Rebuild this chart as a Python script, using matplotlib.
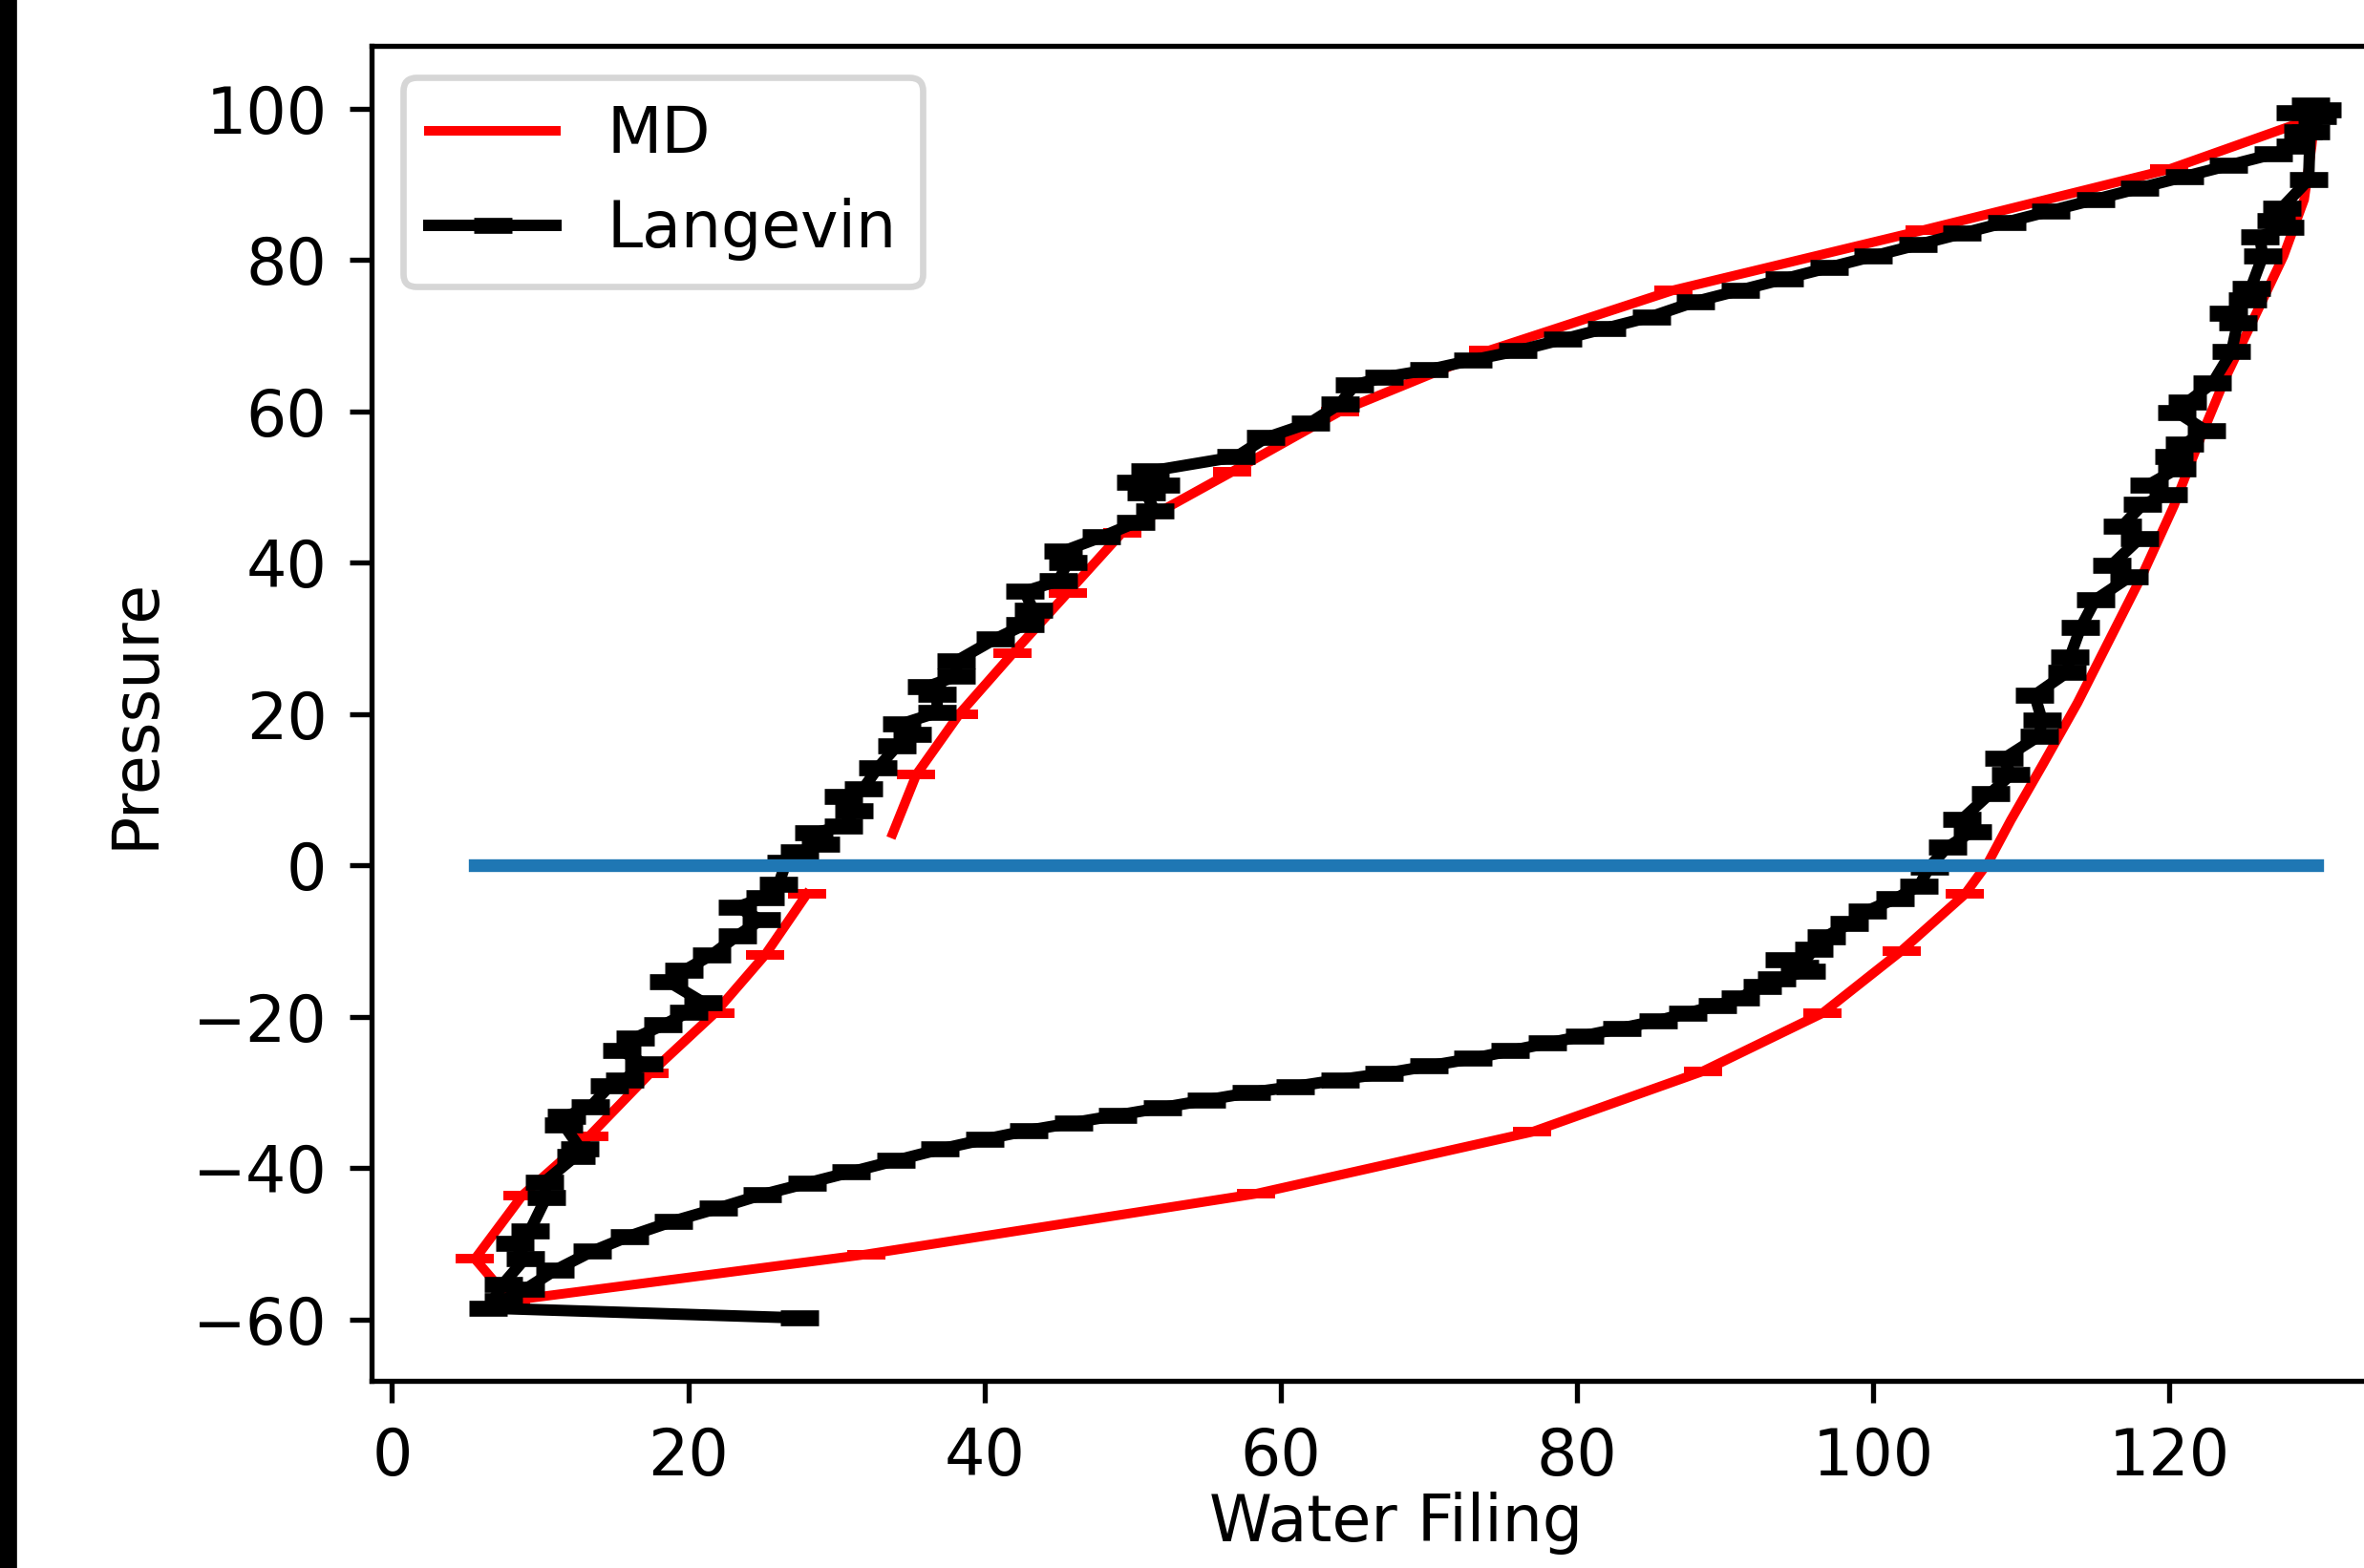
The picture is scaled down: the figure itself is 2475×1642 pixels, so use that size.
import matplotlib
matplotlib.use("Agg")
import matplotlib.pyplot as plt
from matplotlib.patches import Rectangle

# MD run (red): upper branch, right branch, lower branch, left branch
md_x = [33.8, 35.4, 38.3, 41.9, 45.6, 49.3, 56.7, 64.0, 74.0, 86.5, 103.5, 120.0, 129.8,
        129.6, 129.1, 127.7, 126.0, 123.8, 122.0, 120.3, 118.2, 116.0, 113.8, 111.5, 109.3, 107.8,
        106.2, 101.9, 96.6, 88.5, 77.0, 58.3, 32.0, 8.0,
        5.6, 8.8, 13.3, 17.4, 21.8, 25.2, 28.0]
md_p = [4.2, 12.0, 20.0, 28.0, 36.0, 44.0, 52.0, 60.0, 68.0, 76.0, 84.0, 92.0, 98.8,
        95.0, 88.0, 80.5, 73.5, 64.5, 56.0, 47.5, 38.5, 30.0, 21.5, 13.5, 6.0, 0.5,
        -3.8, -11.3, -19.5, -27.2, -35.2, -43.4, -51.4, -57.5,
        -52.0, -43.6, -35.8, -27.5, -19.5, -11.8, -3.8]
md_marked = list(range(1, 13)) + list(range(26, 41))

# Langevin run (black)
lang_x = [27.5, 6.5, 7.5, 9.0, 8.3, 9.3, 10.4, 10.3, 12.4, 12.7, 11.6, 11.8, 13.4, 14.7, 15.7,
          17.0, 15.5, 16.4, 18.3, 20.0, 21.0, 18.7, 19.7, 21.6, 23.3, 24.9, 23.3, 25.2, 26.1,
          26.6, 27.5, 28.9, 28.5, 30.5, 31.2, 30.5, 31.8, 32.8, 34.1, 35.1, 34.4, 36.8, 36.8,
          36.1, 38.1, 38.1, 40.7, 42.7, 43.3, 42.7, 45.0, 45.6, 45.3, 47.9, 50.2, 51.5, 50.9,
          51.9, 50.2, 51.2, 57.0, 59.0, 62.0, 64.0, 65.0, 67.0, 70.0, 73.0, 76.0, 79.0, 82.0,
          85.0, 88.0, 91.0, 94.0, 97.0, 100.0, 103.0, 106.0, 109.0, 112.0, 115.0, 118.0, 121.0,
          124.0, 127.0, 128.5, 129.0, 130.0, 129.5, 128.5, 130.3, 129.5,
          129.4, 127.6, 127.2, 127.8, 126.1, 126.3, 125.5, 125.3, 124.0, 124.6, 124.2, 122.9,
          121.2, 120.5, 122.5, 121.0, 120.3, 120.5, 118.6, 119.9, 118.2, 116.8, 118.0, 116.1,
          117.3, 115.0, 114.0, 113.3, 113.1, 110.9, 111.4, 111.2, 108.8, 109.3, 107.9, 106.0,
          106.7, 105.0, 103.8, 103.1, 101.5, 99.6, 98.4, 96.8, 96.0, 95.0, 94.0, 95.5, 93.5,
          92.5, 91.0, 89.5, 87.5, 85.5, 83.0, 80.5, 78.0, 75.5, 73.0, 70.0, 67.0, 64.0, 61.0,
          58.0, 55.0, 52.0, 49.0, 46.0, 43.0, 40.0, 37.0, 34.0, 31.0, 28.0, 25.0, 22.0, 19.0,
          16.0, 13.5, 11.0, 9.0, 7.5]
lang_p = [-59.8, -58.5, -55.3, -51.9, -50.0, -48.3, -43.9, -41.8, -38.4, -37.4, -34.3, -33.1,
          -31.9, -29.1, -28.3, -26.2, -24.5, -22.8, -21.1, -19.4, -18.1, -15.4, -13.9, -11.8,
          -9.3, -7.2, -5.5, -4.2, -2.5, 0.4, 1.8, 2.8, 4.3, 5.2, 7.2, 9.1, 10.1, 12.9, 15.8,
          17.3, 18.7, 20.2, 22.6, 23.6, 25.0, 27.0, 29.9, 31.8, 33.7, 36.2, 37.6, 40.0, 41.5,
          43.4, 45.3, 46.8, 49.2, 50.2, 50.6, 52.1, 54.0, 56.5, 58.5, 61.0, 63.5, 64.5, 65.5,
          66.8, 68.0, 69.5, 71.0, 72.5, 74.5, 76.0, 77.5, 79.0, 80.5, 82.0, 83.5, 85.0, 86.5,
          88.0, 89.5, 91.0, 92.5, 94.0, 95.0, 97.0, 99.0, 100.5, 99.5, 99.8, 97.0,
          90.6, 86.9, 85.2, 84.3, 83.1, 80.5, 76.3, 74.7, 73.0, 71.7, 67.9, 63.7, 61.2, 59.9,
          57.4, 55.7, 54.0, 52.4, 50.3, 49.0, 47.7, 44.8, 43.2, 39.7, 38.1, 35.1, 31.4, 27.6,
          25.5, 22.5, 19.2, 17.1, 14.1, 12.0, 9.5, 6.1, 4.5, 2.4, -0.2, -2.7, -4.4, -6.0, -7.7,
          -9.4, -11.1, -13.5, -12.5, -14.0, -15.0, -16.0, -17.5, -18.5, -19.5, -20.5, -21.5,
          -22.5, -23.5, -24.5, -25.5, -26.5, -27.5, -28.3, -29.2, -30.0, -31.0, -32.0, -33.0,
          -34.0, -35.0, -36.2, -37.5, -39.0, -40.5, -42.0, -43.5, -45.3, -47.0, -49.0, -51.0,
          -53.5, -56.0, -57.5]

zero_x = [5.6, 130.0]
zero_p = [0, 0]

fig = plt.figure(figsize=(2475 / 480, 1642 / 480), dpi=480)
ax = fig.add_axes([0.1572, 0.1194, 0.867, 0.8514])

ax.plot(md_x, md_p, color="red", marker="_", markevery=md_marked, markersize=6,
        markeredgewidth=1.5, label="MD")
ax.plot(lang_x, lang_p, color="black", lw=1.8, marker="_", markersize=6,
        markeredgewidth=2.5, label="Langevin")
ax.plot(zero_x, zero_p, lw=2)

ax.set_xlim(-1.38, 137)
ax.set_ylim(-68.1, 108.3)
ax.set_xlabel("Water Filing", labelpad=0.5)
ax.set_ylabel("Pressure")
ax.legend(loc="upper left")

# dark strip at the left edge of the screenshot
fig.patches.append(Rectangle((0, 0), 14 / 2475, 1, transform=fig.transFigure,
                             color="black", zorder=10))

fig.savefig("out.png", dpi=480)
